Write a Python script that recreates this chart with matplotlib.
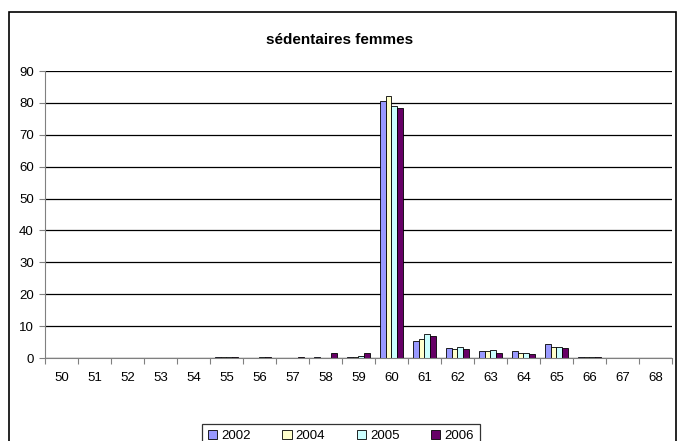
import numpy as np
import matplotlib
matplotlib.use("Agg")
import matplotlib.pyplot as plt
from matplotlib.patches import Rectangle

plt.rcParams['font.family'] = ['Liberation Sans', 'DejaVu Sans']

ages = ['50', '51', '52', '53', '54', '55', '56', '57', '58', '59',
        '60', '61', '62', '63', '64', '65', '66', '67', '68']
v2002 = [0, 0, 0, 0, 0, 0.3, 0, 0, 0.3, 0.2, 80.6, 5.3, 3.2, 2.1, 2.1, 4.5, 0.3, 0, 0]
v2004 = [0, 0, 0, 0, 0, 0.3, 0, 0, 0, 0.2, 82.1, 6.1, 2.7, 2.1, 1.6, 3.6, 0.3, 0, 0]
v2005 = [0, 0, 0, 0, 0, 0.3, 0.2, 0, 0, 0.8, 79.0, 7.6, 3.6, 2.5, 1.6, 3.6, 0.3, 0, 0]
v2006 = [0, 0, 0, 0, 0, 0.3, 0.2, 0.3, 1.5, 1.7, 78.3, 6.8, 2.7, 1.7, 1.3, 3.1, 0.3, 0, 0]
series = [('2002', v2002, '#9999FF'), ('2004', v2004, '#FFFFCC'),
          ('2005', v2005, '#CCFFFF'), ('2006', v2006, '#660066')]

fig = plt.figure(figsize=(6.8, 4.41), dpi=100)
ax = fig.add_axes([0.066, 0.188, 0.922, 0.651])

x = np.arange(len(ages))
w = 0.175
for i, (name, vals, col) in enumerate(series):
    ax.bar(x + (i - 1.5) * w, vals, w, color=col, edgecolor='black',
           linewidth=0.6, label=name, zorder=3)

ax.set_xlim(-0.5, len(ages) - 0.5)
ax.set_ylim(0, 90)
ax.set_yticks(range(0, 91, 10))
ax.set_xticks(np.arange(-0.5, len(ages), 1))
ax.set_xticklabels([])
ax.set_xticks(x, ages, minor=True)
ax.tick_params(axis='x', which='major', length=4, color='#808080')
ax.tick_params(axis='x', which='minor', length=0, pad=10, labelsize=9.5)
ax.tick_params(axis='y', length=4, color='#808080', labelsize=9.5, pad=4)

ax.yaxis.grid(True, color='black', linewidth=0.9)
ax.set_axisbelow(True)
for s in ['top', 'right']:
    ax.spines[s].set_visible(False)
for s in ['left', 'bottom']:
    ax.spines[s].set_color('#808080')
    ax.spines[s].set_zorder(4)

fig.text(0.5, 0.91, 'sédentaires femmes', ha='center', va='center',
         fontsize=11, fontweight='bold')

# outer chart frame
fig.patches.append(Rectangle((9 / 680, -0.1), 667 / 680, 1.1 - 12 / 441,
                             transform=fig.transFigure, fill=False,
                             edgecolor='black', linewidth=1.2))

leg = fig.legend(loc='upper center', bbox_to_anchor=(341 / 680, 1 - 417 / 441),
                 ncol=4, fontsize=9.5, frameon=True, fancybox=False,
                 edgecolor='black', handlelength=0.7, handleheight=0.7,
                 handletextpad=0.3, columnspacing=2.4, borderpad=0.5)
leg.get_frame().set_linewidth(0.9)

fig.savefig('out.png', dpi=100, facecolor='white')
